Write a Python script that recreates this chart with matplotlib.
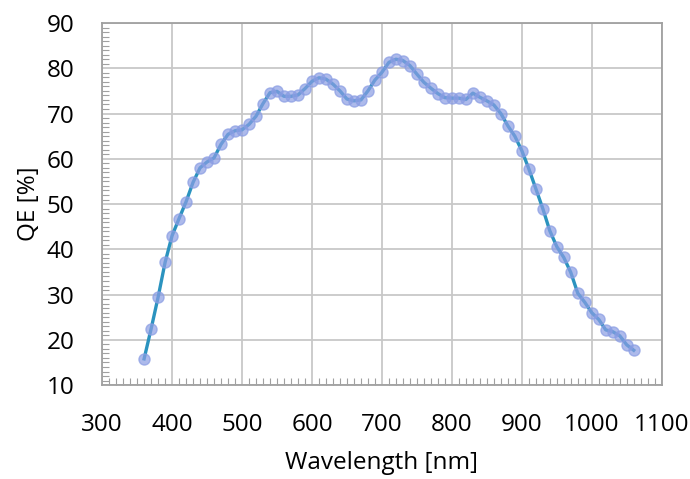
import numpy as np
import matplotlib.pyplot as plt
from matplotlib.ticker import MultipleLocator

plt.rcParams['font.family'] = ['Open Sans', 'DejaVu Sans']

wavelength = list(range(360, 1061, 10))
qe = [15.8, 22.4, 29.4, 37.1, 43.0, 46.8, 50.5, 54.8, 58.0, 59.3,
      60.2, 63.2, 65.4, 66.2, 66.4, 67.6, 69.4, 72.2, 74.6, 74.9,
      73.8, 73.8, 74.1, 75.5, 77.1, 77.9, 77.6, 76.5, 75.0, 73.2,
      72.8, 73.0, 75.0, 77.4, 79.1, 81.3, 82.0, 81.7, 80.6, 78.7,
      76.9, 75.6, 74.4, 73.5, 73.4, 73.4, 73.1, 74.5, 73.6, 72.8,
      71.9, 70.0, 67.3, 65.0, 61.8, 57.8, 53.4, 49.0, 44.1, 40.6,
      38.2, 34.9, 30.3, 28.3, 26.0, 24.5, 22.2, 21.8, 20.9, 18.9,
      17.7]

fig = plt.figure(figsize=(6.9, 4.79), dpi=100)
ax = fig.add_axes([0.148, 0.196, 0.811, 0.756])

ax.plot(wavelength, qe, color='#2b93bf', lw=2.4, zorder=3)
ax.plot(wavelength, qe, ls='none', marker='o', ms=8,
        mfc='#8a9de3', mec='#8a9de3', alpha=0.7, zorder=4)

ax.set_xlim(300, 1100)
ax.set_ylim(10, 90)
ax.xaxis.set_major_locator(MultipleLocator(100))
ax.xaxis.set_minor_locator(MultipleLocator(10))
ax.yaxis.set_major_locator(MultipleLocator(10))
ax.yaxis.set_minor_locator(MultipleLocator(1))

ax.grid(True, which='major', color='#c8c8c8', lw=1.3)
ax.set_axisbelow(True)
for s in ax.spines.values():
    s.set_color('#a0a0a0')
    s.set_linewidth(1.3)

ax.tick_params(which='both', direction='in', color='#a0a0a0',
               labelsize=17.5, top=False, right=False)
ax.tick_params(which='major', length=0)
ax.tick_params(axis='x', which='major', pad=20)
ax.tick_params(axis='y', which='major', pad=20)
ax.tick_params(which='minor', length=5, width=0.8)

ax.set_xlabel('Wavelength [nm]', fontsize=17.5, labelpad=10)
ax.set_ylabel('QE [%]', fontsize=17.5, labelpad=4)

fig.savefig('out.png', dpi=100)
